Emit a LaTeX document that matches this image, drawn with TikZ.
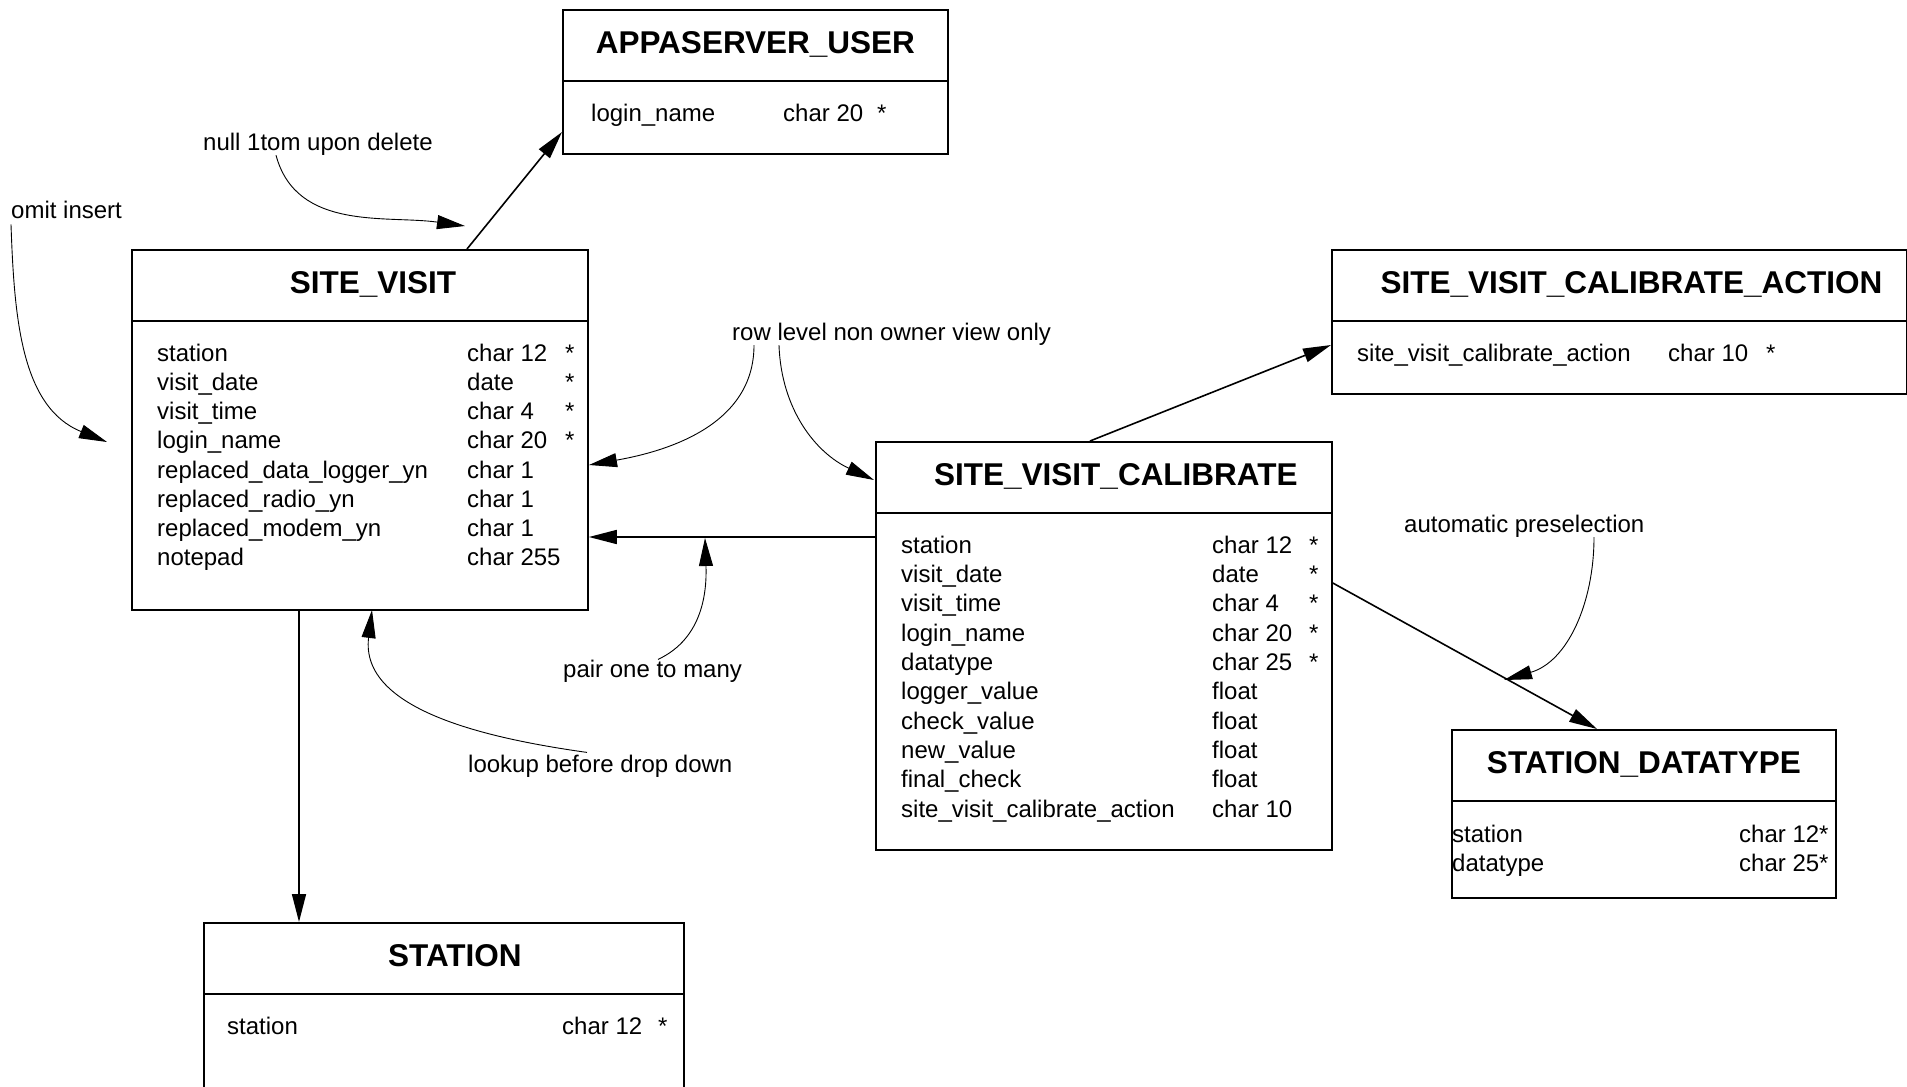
\documentclass[tikz,border=0pt]{standalone}
\usepackage{fontspec}
\setmainfont{Liberation Sans}
\usepackage{tikz}
\usetikzlibrary{arrows.meta}
\usetikzlibrary{positioning}

\begin{document}
\begin{tikzpicture}[x=1pt, y=1pt]
\tikzstyle{tabla}=[
    draw,
    line width=1.8pt,
    anchor=north west,
    inner sep=0pt
]
\tikzstyle{titulo}=[anchor=base, inner sep=0pt, font=\fontsize{31.5}{36}\selectfont\bfseries]
\tikzstyle{campo}=[anchor=base west, inner sep=0pt, font=\fontsize{24}{29}\selectfont]
\tikzstyle{nota}=[anchor=base west, inner sep=0pt, font=\fontsize{24}{29}\selectfont]
\tikzstyle{relacion}=[-{Triangle[length=28pt, width=14pt]}, line width=1.6pt]
\tikzstyle{flecha}=[-{Triangle[length=28pt, width=14pt]}, line width=0.9pt]

\useasboundingbox (0,0) rectangle (1907,-1087);
\clip (0,0) rectangle (1907,-1087);

% Tablas
\node[tabla, minimum width=385pt, minimum height=144pt] (appa) at (562,-9) {};
\node[tabla, minimum width=456pt, minimum height=360pt] (sv) at (131,-249) {};
\node[tabla, minimum width=575pt, minimum height=144pt] (svca) at (1331,-249) {};
\node[tabla, minimum width=456pt, minimum height=408pt] (svc) at (875,-441) {};
\node[tabla, minimum width=384pt, minimum height=168pt] (sd) at (1451,-729) {};
\node[tabla, minimum width=480pt, minimum height=190pt] (st) at (203,-922) {};

\foreach \t in {appa, sv, svca, svc, sd, st}
    \draw[line width=1.8pt] ([yshift=-72pt]\t.north west) -- ([yshift=-72pt]\t.north east);

% Titulos
\node[titulo] (appa-t) at ([yshift=-44pt]appa.north) {APPASERVER\_USER};
\node[titulo] (sv-t) at ([xshift=13pt, yshift=-44pt]sv.north) {SITE\_VISIT};
\node[titulo] (svca-t) at ([xshift=12pt, yshift=-44pt]svca.north) {SITE\_VISIT\_CALIBRATE\_ACTION};
\node[titulo] (svc-t) at ([xshift=12pt, yshift=-44pt]svc.north) {SITE\_VISIT\_CALIBRATE};
\node[titulo] (sd-t) at ([yshift=-44pt]sd.north) {STATION\_DATATYPE};
\node[titulo] (st-t) at ([xshift=11pt, yshift=-44pt]st.north) {STATION};

% Campos
\node[campo] (appa-n1) at ([xshift=29pt, yshift=-112pt]appa.north west) {login\_name};
\node[campo] (appa-c1) at ([xshift=221pt, yshift=-112pt]appa.north west) {char 20};
\node[campo] (appa-m1) at ([xshift=315pt, yshift=-112pt]appa.north west) {*};

\foreach \nombre/\tipo/\marca [count=\i] in {station/char 12/*, visit\_date/date/*,
    visit\_time/char 4/*, login\_name/char 20/*, replaced\_data\_logger\_yn/char 1/{},
    replaced\_radio\_yn/char 1/{}, replaced\_modem\_yn/char 1/{}, notepad/char 255/{}} {
  \node[campo] (sv-n\i) at ([xshift=26pt, yshift={-83pt-29.2pt*\i}]sv.north west) {\nombre};
  \node[campo] (sv-c\i) at ([xshift=336pt, yshift={-83pt-29.2pt*\i}]sv.north west) {\tipo};
  \node[campo] (sv-m\i) at ([xshift=434pt, yshift={-83pt-29.2pt*\i}]sv.north west) {\marca};
}

\node[campo] (svca-n1) at ([xshift=26pt, yshift=-112pt]svca.north west) {site\_visit\_calibrate\_action};
\node[campo] (svca-c1) at ([xshift=337pt, yshift=-112pt]svca.north west) {char 10};
\node[campo] (svca-m1) at ([xshift=435pt, yshift=-112pt]svca.north west) {*};

\foreach \nombre/\tipo/\marca [count=\i] in {station/char 12/*, visit\_date/date/*,
    visit\_time/char 4/*, login\_name/char 20/*, datatype/char 25/*,
    logger\_value/float/{}, check\_value/float/{}, new\_value/float/{},
    final\_check/float/{}, site\_visit\_calibrate\_action/char 10/{}} {
  \node[campo] (svc-n\i) at ([xshift=26pt, yshift={-83pt-29.3pt*\i}]svc.north west) {\nombre};
  \node[campo] (svc-c\i) at ([xshift=337pt, yshift={-83pt-29.3pt*\i}]svc.north west) {\tipo};
  \node[campo] (svc-m\i) at ([xshift=434pt, yshift={-83pt-29.3pt*\i}]svc.north west) {\marca};
}

\foreach \nombre/\tipo [count=\i] in {station/char 12*, datatype/char 25*} {
  \node[campo] (sd-n\i) at ([xshift=1pt, yshift={-84pt-29pt*\i}]sd.north west) {\nombre};
  \node[campo] (sd-c\i) at ([xshift=288pt, yshift={-84pt-29pt*\i}]sd.north west) {\tipo};
}

\node[campo] (st-n1) at ([xshift=24pt, yshift=-112pt]st.north west) {station};
\node[campo] (st-c1) at ([xshift=359pt, yshift=-112pt]st.north west) {char 12};
\node[campo] (st-m1) at ([xshift=455pt, yshift=-112pt]st.north west) {*};

% Relaciones
\draw[relacion] ([xshift=336pt]sv.north west) -- ([yshift=-123pt]appa.north west);
\draw[relacion] ([xshift=168pt]sv.south west) -- ([xshift=96pt]st.north west);
\draw[relacion] ([yshift=-96pt]svc.north west) -- ([yshift=-288pt]sv.north east);
\draw[relacion] ([xshift=215pt]svc.north west) -- ([yshift=-96pt]svca.north west);
\draw[relacion] ([yshift=-142pt]svc.north east) -- ([xshift=146pt]sd.north west);

% Notas
\node[nota] (nota-null) at (203,-150) {null 1tom upon delete};
\node[nota] (nota-omit) at (11,-218) {omit insert};
\node[nota] (nota-fila) at (732,-340) {row level non owner view only};
\node[nota] (nota-par) at (563,-677) {pair one to many};
\node[nota] (nota-busq) at (468,-772) {lookup before drop down};
\node[nota] (nota-auto) at (1404,-532) {automatic preselection};

\coordinate (p-null) at (465,-226);
\coordinate (p-omit) at (107,-442);
\coordinate (p-fila1) at (589,-465);
\coordinate (p-fila2) at (874,-480);
\coordinate (p-par) at (705,-538);
\coordinate (p-busq) at (372,-610);
\coordinate (p-auto) at (1504,-680);

\draw[flecha] ([xshift=73pt]nota-null.south west) to[out=-75, in=172] (p-null);
\draw[flecha] ([yshift=-6pt]nota-omit.south west) to[out=-88, in=158] (p-omit);
\draw[flecha] ([xshift=22pt]nota-fila.south west) to[out=-90, in=10] (p-fila1);
\draw[flecha] ([xshift=47pt]nota-fila.south west) to[out=-88, in=155] (p-fila2);
\draw[flecha] ([xshift=95pt]nota-par.north west) to[out=25, in=-88] (p-par);
\draw[flecha] ([xshift=119pt, yshift=2pt]nota-busq.north west) to[out=172, in=-97] (p-busq);
\draw[flecha] ([xshift=190pt]nota-auto.south west) to[out=-90, in=16] (p-auto);

\end{tikzpicture}
\end{document}
